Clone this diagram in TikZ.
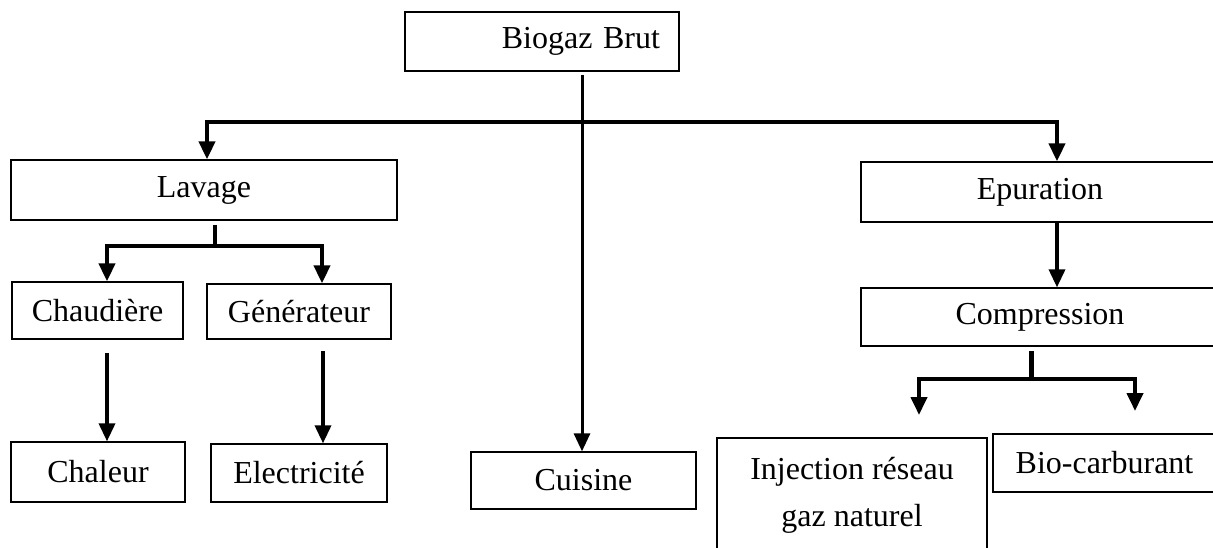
\documentclass[tikz,border=0pt]{standalone}
\usepackage{fontspec}
\setmainfont{Liberation Serif}
\usetikzlibrary{arrows.meta}
\tikzset{
	box/.style={draw, line width=1.3pt, inner sep=0pt, font=\fontsize{32}{38}\selectfont},
	arr/.style={line width=3.5pt, -{Triangle[length=18pt,width=16pt]}},
	fork/.style={line width=4pt, {Triangle[length=18pt,width=16pt]}-{Triangle[length=18pt,width=16pt]}},
	bar/.style={line width=4.5pt},
}

\begin{document}
\begin{tikzpicture}[x=1pt, y=-1pt]
		%%%%% START %%%%%
		\useasboundingbox (0, 0) rectangle (1213, 548);
		\clip (0, 0) rectangle (1213, 548);
		
		\node[box, minimum width=274pt, minimum height=59pt, text width=236pt, inner xsep=19pt, align=right] (biogaz) at (542, 41.5) {Biogaz Brut};
		
		\node[box, minimum width=386pt, minimum height=60pt] (lavage) at (204, 190) {Lavage};
		\node[box, minimum width=358pt, minimum height=60pt] (epuration) at (1040, 192) {Epuration};
		
		\node[box, minimum width=171pt, minimum height=57pt] (chaudiere) at (97.5, 310.5) {Chaudière};
		\node[box, minimum width=184pt, minimum height=55pt] (generateur) at (299, 311.5) {Générateur};
		\node[box, minimum width=358pt, minimum height=58pt] (compression) at (1040, 317) {Compression};
		
		\node[box, minimum width=174pt, minimum height=60pt] (chaleur) at (98, 472) {Chaleur};
		\node[box, minimum width=176pt, minimum height=58pt] (electricite) at (299, 473) {Electricité};
		\node[box, minimum width=225pt, minimum height=57pt] (cuisine) at (583.5, 480.5) {Cuisine};
		\node[box, minimum width=270pt, minimum height=114pt, align=center, font=\fontsize{32}{47}\selectfont] (injection) at (852, 495) {Injection réseau\\gaz naturel};
		\node[box, minimum width=223pt, minimum height=58pt] (bio) at (1104.5, 463) {Bio-carburant};
		
		% tronc principal
		\coordinate (top) at (582, 75);
		\draw[arr, line width=3pt] (top) -- (top |- cuisine.north);
		\coordinate (barL) at (207, 122);
		\coordinate (barR) at (1057, 122);
		\draw[fork] (barL |- lavage.north) -- (barL) -- (barR) -- (barR |- epuration.north);
		
		% lavage
		\coordinate (lavS) at (215, 225);
		\coordinate (lavL) at (107, 246);
		\coordinate (lavR) at (322, 246);
		\draw[bar] (lavS) -- (lavS |- lavL);
		\draw[fork] (lavL |- chaudiere.north) -- (lavL) -- (lavR) -- (lavR |- generateur.north);
		
		\coordinate (c1) at (107, 353);
		\coordinate (c2) at (323, 351);
		\draw[arr] (c1) -- (c1 |- chaleur.north);
		\draw[arr] (c2) -- (c2 |- electricite.north);
		
		% epuration
		\draw[arr] (barR |- epuration.south) -- (barR |- compression.north);
		
		\coordinate (comS) at (1031, 351);
		\coordinate (comL) at (919, 379);
		\coordinate (comR) at (1135, 379);
		\coordinate (injT) at (919, 415);
		\coordinate (bioT) at (1135, 411);
		\draw[bar, line width=5pt] (comS) -- (comS |- comL);
		\draw[fork] (injT) -- (comL) -- (comR) -- (bioT);
		
		%%%%% END %%%%%
\end{tikzpicture}
\end{document}
